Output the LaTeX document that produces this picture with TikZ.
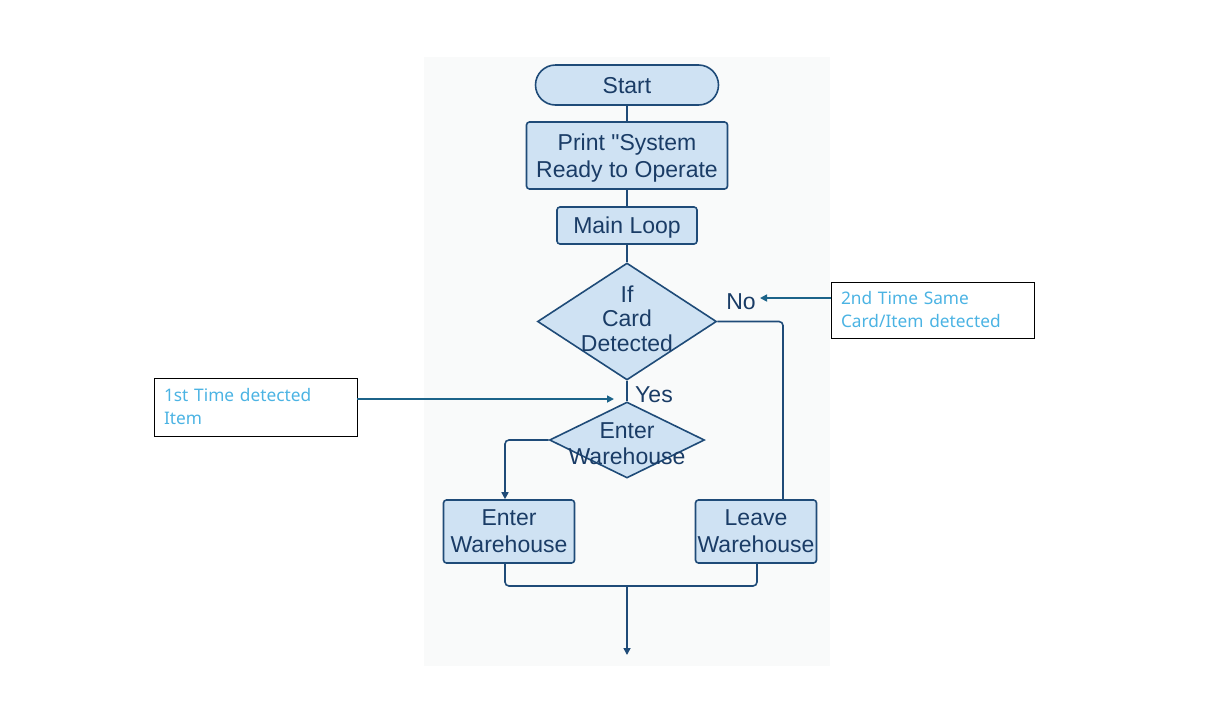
\documentclass[tikz,border=0pt]{standalone}
\usepackage{fontspec}
\setmainfont{Liberation Sans}
\newfontfamily\notefont{Noto Sans}
\usepackage{xcolor}
\usetikzlibrary{positioning, arrows.meta, shapes.geometric, calc}

\definecolor{boxfill}{HTML}{CFE2F3}
\definecolor{boxline}{HTML}{1F4B78}
\definecolor{boxtext}{HTML}{1A3C66}
\definecolor{notetext}{HTML}{4BB3E3}
\definecolor{notelink}{HTML}{1C6389}
\definecolor{panelgray}{HTML}{F9FAFA}

\begin{document}
\begin{tikzpicture}[x=1pt, y=-1pt,
    every node/.style={font=\fontsize{23}{27}\selectfont, text=boxtext},
    block/.style={draw=boxline, fill=boxfill, line width=1.6pt, rounded corners=3pt,
        align=center, inner sep=0pt, text depth=0pt},
    decision/.style={diamond, draw=boxline, fill=boxfill, line width=1.6pt, inner sep=0pt},
    flow/.style={draw=boxline, line width=1.6pt, rounded corners=4pt},
    note/.style={draw=black, line width=0.8pt, inner sep=0pt, text width=183pt, align=left,
        font=\notefont\fontsize{17.3}{23}\selectfont, text=notetext},
    notearrow/.style={draw=notelink, line width=1.6pt, -{Triangle[length=7pt,width=7pt]}}]

    \useasboundingbox (0,0) rectangle (1216,710);

    % Light panel behind the flowchart
    \fill[panelgray] (424,57) rectangle (830,666);

    % Main column
    \node[block, minimum width=183pt, minimum height=40pt, rounded corners=20pt] (start) at (627,85) {Start};
    \node[block, minimum width=201pt, minimum height=67pt] (print) at (627,155.5) {Print \textquotedbl System\\Ready to Operate};
    \node[block, minimum width=140pt, minimum height=37pt] (loop) at (627,225.5) {Main Loop};

    % Decisions
    \node[decision, minimum width=179pt, minimum height=117pt,
        label={[align=center, yshift=3pt, font=\fontsize{23}{24.5}\selectfont, text=boxtext]center:If\\Card\\Detected}]
        (card) at (627,321.5) {};
    \node[decision, minimum width=155pt, minimum height=76pt,
        label={[align=center, yshift=-4pt, font=\fontsize{23}{26}\selectfont, text=boxtext]center:Enter\\Warehouse}]
        (enter) at (627,440) {};

    % Outcome boxes
    \node[block, minimum width=131pt, minimum height=63pt] (inbox) at (509,531.5) {Enter\\Warehouse};
    \node[block, minimum width=121pt, minimum height=63pt] (outbox) at (756,531.5) {Leave\\Warehouse};

    % Branch labels
    \node (yes) at (654,395) {Yes};
    \node (no) at (741,302) {No};

    % Connectors
    \draw[flow] (start) -- (print);
    \draw[flow] (print) -- (loop);
    \draw[flow] (loop) -- (card);
    \draw[flow] (card) -- (enter);
    \draw[flow, -{Triangle[length=7pt,width=7pt]}] (enter.west) -| ([xshift=-4pt]inbox.north);
    \draw[flow] (card.east) -| ([xshift=27pt]outbox.north);

    % Join below the two boxes
    \coordinate (merge) at (627,586);
    \coordinate (exit) at (627,655);
    \draw[flow] ([xshift=-4pt]inbox.south) |- (merge) -| ([xshift=1pt]outbox.south);
    \draw[flow, -{Triangle[length=7pt,width=7pt]}] (merge) -- (exit);

    % Side notes
    \node[note, minimum width=203pt, minimum height=58pt] (firstnote) at (255.5,407) {1st Time detected\\Item};
    \node[note, minimum width=203pt, minimum height=56pt] (secondnote) at (932.5,310) {2nd Time Same\\Card/Item detected};
    \coordinate (yesin) at (614,399);
    \coordinate (noin) at (760,298);
    \draw[notearrow] (firstnote.east |- yesin) -- (yesin);
    \draw[notearrow] (secondnote.west |- noin) -- (noin);
\end{tikzpicture}
\end{document}
